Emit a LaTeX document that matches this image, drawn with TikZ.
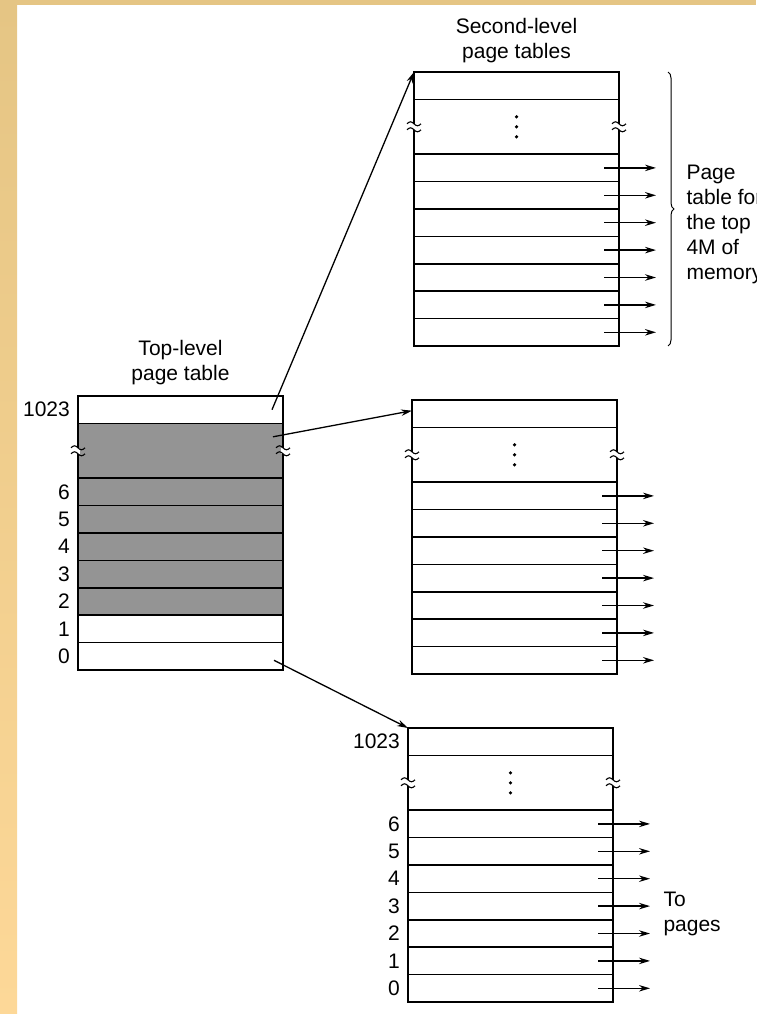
\documentclass[tikz,border=0pt]{standalone}
\usepackage{fontspec}
\setmainfont{Liberation Sans}
\usetikzlibrary{positioning,arrows.meta,backgrounds,decorations.pathreplacing}
\definecolor{slidetan}{HTML}{E5C584}
\definecolor{slidesand}{HTML}{FDD898}

\begin{document}
\begin{tikzpicture}[x=1pt, y=-1pt,
        font=\fontsize{21}{25}\selectfont,
        entry/.style={draw, line width=1.6pt, minimum width=205pt, minimum height=27.4pt, inner sep=0pt, outer sep=0pt},
        gap/.style={entry, minimum height=54.8pt},
        idx/.style={left=8pt of #1, inner sep=0pt},
        ptr/.style={-{Stealth[length=11pt, width=6.5pt]}, line width=1.3pt},
        brk/.pic={
            \fill[white] (-2,-3) rectangle (2,3);
            \draw[line width=1.1pt] (-7,-3) sin (-3.5,-5) cos (0,-3) sin (3.5,-1) cos (7,-3);
            \draw[line width=1.1pt] (-7,3) sin (-3.5,1) cos (0,3) sin (3.5,5) cos (7,3);
        }
    ]
        \useasboundingbox (0,0) rectangle (756,1014);
        \shade[top color=slidetan, bottom color=slidesand] (0,0) rectangle (17,1014);
        \fill[slidetan] (0,0) rectangle (756,5);

        \foreach \t/\x/\y in {T/78/396, A/414/72, B/412/400, C/408/728} {
            \node[entry, anchor=north west] (\t-top) at (\x,\y) {};
            \node[gap, below=0pt of \t-top] (\t-gap) {};
            \node[entry, below=0pt of \t-gap] (\t-6) {};
            \foreach \i/\j in {5/6,4/5,3/4,2/3,1/2,0/1}
                \node[entry, below=0pt of \t-\j] (\t-\i) {};
            \pic at (\t-gap.west) {brk};
            \pic at (\t-gap.east) {brk};
        }
        \begin{scope}[on background layer]
            \fill[black!42] (T-gap.north west) rectangle (T-2.south east);
        \end{scope}

        \foreach \t in {T,C} {
            \node[idx=\t-top] (\t-l1023) {1023};
            \foreach \i in {0,...,6}
                \node[idx=\t-\i] (\t-l\i) {\i};
        }
        \foreach \t in {A,B,C} {
            \foreach \d in {-10,0,10}
                \fill ([yshift=\d pt]\t-gap.center) circle (1.8);
            \foreach \i in {0,...,6}
                \draw[ptr] ([xshift=-15pt]\t-\i.east) -- ([xshift=37pt]\t-\i.east);
        }

        \node[above=8pt of T-top, align=center] (T-title) {Top-level\\page table};
        \node[above=6pt of A-top, align=center] (A-title) {Second-level\\page tables};
        \node[anchor=west, align=left] (memnote) at (683,224) {Page\\table for\\the top\\4M of\\memory};
        \node[anchor=west, align=left] (topages) at (660,914) {To\\pages};

        \draw[ptr] ([xshift=-11pt]T-top.east) -- (A-top.north west);
        \draw[ptr] ([xshift=-10pt, yshift=14pt]T-gap.east) -- ([yshift=3pt]B-top.west);
        \draw[ptr] ([xshift=-9pt, yshift=-4pt]T-0.east) -- (C-top.north west);
        \draw[line width=1pt, decorate, decoration={brace, amplitude=6pt}]
            ([xshift=49pt]A-top.north east) -- ([xshift=49pt]A-0.south east);
    \end{tikzpicture}
\end{document}
